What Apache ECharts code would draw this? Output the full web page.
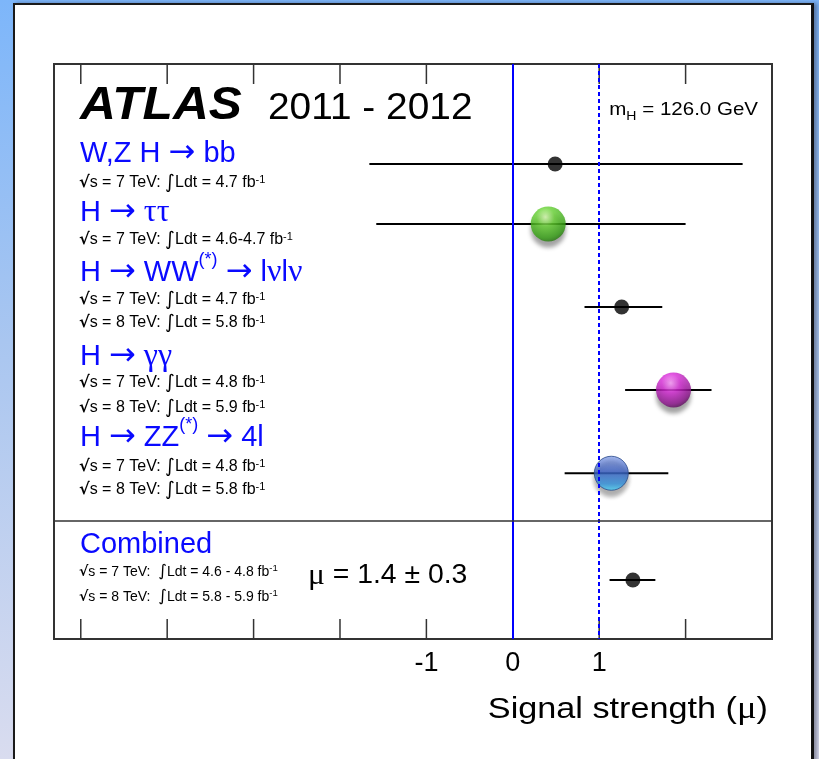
<!DOCTYPE html>
<html>
<head>
<meta charset="utf-8">
<script src="https://cdn.jsdelivr.net/npm/echarts@6/dist/echarts.min.js"></script>
<style>
  html, body { margin:0; padding:0; width:819px; height:759px; overflow:hidden; }
  body { background: linear-gradient(to bottom, #7db6fa 0%, #a9c6f0 45%, #d9dcef 100%); position:relative; }
  #panel { position:absolute; left:13px; top:3px; width:796px; height:800px; background:#fff;
           border-left:2px solid #1a1a1a; border-top:2px solid #1a1a1a; border-right:3px solid #111;
           box-shadow: 3px 0 4px rgba(40,40,60,0.45); }
  #chart { position:absolute; left:0; top:0; width:819px; height:759px; }
</style>
</head>
<body>
<div id="panel"></div>
<div id="chart"></div>
<script>
// ---- data ----
const channels = ['WZH_bb', 'H_tautau', 'H_WW', 'H_gamgam', 'H_ZZ', 'Combined'];
const muValue  = [0.49, 0.41, 1.26, 1.86, 1.14, 1.39];
const muLow    = [-1.66, -1.58, 0.83, 1.30, 0.60, 1.12];
const muHigh   = [2.66, 2.00, 1.73, 2.30, 1.80, 1.65];
const rowPos   = [4.0, 6.4, 9.72, 13.04, 16.37, 20.64];
const xTicks   = [-5, -4, -3, -2, -1, 0, 1, 2];
const xLabels  = [-1, 0, 1];
const refLines = [0, 1];
const separatorPos = 18.27;
const Y_MIN = 0, Y_MAX = 23;

const FONT = "'Liberation Sans', Arial, Helvetica, sans-serif";
const SERIF = "'Liberation Serif', 'DejaVu Serif', serif";
const BLUE = '#0a0aff';

function radial(c0, c1, c2, c3) {
  return { type:'radial', x:0.42, y:0.3, r:0.75,
    colorStops:[{offset:0,color:c0},{offset:0.35,color:c1},{offset:0.8,color:c2},{offset:1,color:c3}] };
}
const markerStyle = {
  WZH_bb:   { size:15, itemStyle:{ color:'#000' } },
  H_tautau: { size:35, itemStyle:{ color: radial('#d8ffb0','#66d232','#34a012','#1f6a0a'),
              shadowBlur:4, shadowOffsetY:6, shadowColor:'rgba(0,0,0,0.45)' } },
  H_WW:     { size:15, itemStyle:{ color:'#000' } },
  H_gamgam: { size:35, itemStyle:{ color: radial('#ff9cff','#d82ad8','#8e128e','#4a084a'),
              shadowBlur:4, shadowOffsetY:6, shadowColor:'rgba(0,0,0,0.45)' } },
  H_ZZ:     { size:34, itemStyle:{ color:{ type:'linear', x:0, y:0, x2:0, y2:1,
              colorStops:[{offset:0,color:'#8aa2e6'},{offset:0.45,color:'#3c62c8'},{offset:0.8,color:'#3191dc'},{offset:1,color:'#4ad6f6'}] },
              borderColor:'#2a4a8a', borderWidth:1,
              shadowBlur:4, shadowOffsetY:6, shadowColor:'rgba(0,0,0,0.4)' } },
  Combined: { size:15, itemStyle:{ color:'#000' } }
};

const chart = echarts.init(document.getElementById('chart'), null, { renderer:'canvas' });

function subRich(fs) {
  const k = fs / 16;
  return {
    sup:{ fontSize:11*k, lineHeight:11*k, verticalAlign:'top', fontFamily:FONT, fill:'#000' },
    rt:{ fontSize:16*k, lineHeight:18, fontFamily:"'DejaVu Sans'", fontWeight:'bold', fill:'#000' },
    it:{ fontSize:19*k, lineHeight:18, fontFamily:"'DejaVu Sans'", fill:'#000' }
  };
}
function subLine(txt, x, y, fs) {
  fs = fs || 16;
  return { type:'text', x:x, y:y, z:100,
    style:{ text:txt, fontSize:fs, fontFamily:FONT, fill:'#000', verticalAlign:'middle', align:'left',
            lineHeight:18, rich:subRich(fs) } };
}
const headRich = {
  sup:{ fontSize:18, lineHeight:18, verticalAlign:'top', fontFamily:FONT, fill:BLUE },
  arr:{ fontSize:32, lineHeight:44, fontFamily:"'DejaVu Sans'", fill:BLUE },
  gr:{ fontSize:32, lineHeight:44, fontFamily:SERIF, fill:BLUE }
};
function header(txt, x, y, fs) {
  return { type:'text', x:x, y:y, z:100,
    style:{ text:txt, fontSize:fs||29, fontFamily:FONT, fill:BLUE, verticalAlign:'middle', align:'left',
            lineHeight:44, rich:headRich } };
}
const SUB7 = '{rt|\u221A}s = 7 TeV: {it|\u222B}Ldt = ';
const SUB8 = '{rt|\u221A}s = 8 TeV: {it|\u222B}Ldt = ';

const graphics = [
  { type:'text', x:80, y:106, z:100, scaleX:1.08, style:{ text:'ATLAS', font:"italic bold 46px 'Liberation Sans', Arial", fill:'#000', verticalAlign:'middle' } },
  { type:'text', x:268, y:109, z:100, scaleX:1.05, style:{ text:'2011 - 2012', font:"37px 'Liberation Sans', Arial", fill:'#000', verticalAlign:'middle' } },
  { type:'text', x:758, y:110, z:100, scaleX:1.08, style:{ text:'m{sub|H} = 126.0 GeV', fontSize:19, fontFamily:FONT, fill:'#000',
      align:'right', verticalAlign:'middle', lineHeight:26,
      rich:{ sub:{ fontSize:13, lineHeight:13, verticalAlign:'bottom', fontFamily:FONT, fill:'#000' } } } },

  header('W,Z H {arr|\u2192} bb', 80, 154),
  subLine(SUB7 + '4.7 fb{sup|-1}', 79, 183),
  header('H {arr|\u2192} {gr|\u03C4\u03C4}', 80, 213),
  subLine(SUB7 + '4.6-4.7 fb{sup|-1}', 79, 240),
  header('H {arr|\u2192} WW{sup|(*)} {arr|\u2192} l{gr|\u03BD}l{gr|\u03BD}', 80, 273),
  subLine(SUB7 + '4.7 fb{sup|-1}', 79, 300),
  subLine(SUB8 + '5.8 fb{sup|-1}', 79, 323),
  header('H {arr|\u2192} {gr|\u03B3\u03B3}', 80, 357),
  subLine(SUB7 + '4.8 fb{sup|-1}', 79, 383),
  subLine(SUB8 + '5.9 fb{sup|-1}', 79, 408),
  header('H {arr|\u2192} ZZ{sup|(*)} {arr|\u2192} 4l', 80, 438),
  subLine(SUB7 + '4.8 fb{sup|-1}', 79, 467),
  subLine(SUB8 + '5.8 fb{sup|-1}', 79, 490),
  header('Combined', 80, 545, 29),
  subLine('{rt|\u221A}s = 7 TeV:  {it|\u222B}Ldt = 4.6 - 4.8 fb{sup|-1}', 79, 572, 14),
  subLine('{rt|\u221A}s = 8 TeV:  {it|\u222B}Ldt = 5.8 - 5.9 fb{sup|-1}', 79, 597, 14),
  { type:'text', x:308, y:576, z:100, scaleX:1.05, style:{ text:'{m|\u03BC} = 1.4 \u00B1 0.3', fontSize:27, fontFamily:FONT, fill:'#000', verticalAlign:'middle',
      rich:{ m:{ fontSize:30, fontFamily:SERIF, fill:'#000' } } } },
  { type:'text', x:768, y:710, z:100, scaleX:1.18, style:{ text:'Signal strength ({m|\u03BC})', fontSize:29, fontFamily:FONT, fill:'#000', verticalAlign:'middle', align:'right',
      rich:{ m:{ fontSize:31, fontFamily:SERIF, fill:'#000' } } } }
];

const option = {
  animation:false,
  backgroundColor:'transparent',
  grid:{ left:54, top:64, width:718, height:575, show:true, borderColor:'#333', borderWidth:2, backgroundColor:'transparent' },
  xAxis:{ type:'value', min:-5.31, max:3.0, position:'bottom',
      axisLine:{ show:false }, splitLine:{ show:false }, axisTick:{ show:false },
      axisLabel:{ show:true, customValues:xLabels, fontSize:27, color:'#000', fontFamily:FONT, margin:11 } },
  yAxis:{ type:'value', inverse:true, min:Y_MIN, max:Y_MAX, show:false },
  graphic: graphics,
  series:[
    { type:'scatter', data:[], z:1, silent:true,
      markLine:{ silent:true, symbol:['none','none'], label:{ show:false }, animation:false,
        data:[
          { xAxis:refLines[0], lineStyle:{ color:'#0000ff', width:2, type:'solid' } },
          { xAxis:refLines[1], lineStyle:{ color:'#0000ff', width:2, type:[4,3] } },
          { yAxis:separatorPos, lineStyle:{ color:'#333', width:1.5, type:'solid' } }
        ] } },
    // tick marks on top and bottom frame, placed by the x scale
    { type:'custom', z:2, silent:true,
      encode:{ x:0 },
      data: xTicks.map(v=>[v]),
      renderItem:function(params, api){
        const t = api.coord([api.value(0), Y_MIN]);
        const b = api.coord([api.value(0), Y_MAX]);
        const st = { stroke:'#333', lineWidth:1.5 };
        return { type:'group', children:[
          { type:'line', shape:{ x1:t[0], y1:t[1], x2:t[0], y2:t[1]+20 }, style:st },
          { type:'line', shape:{ x1:b[0], y1:b[1], x2:b[0], y2:b[1]-20 }, style:st }
        ] };
      } },
    { type:'custom', z:2, silent:true,
      encode:{ x:[0,1], y:2 },
      data: channels.map((c,i)=>[muLow[i], muHigh[i], rowPos[i]]),
      renderItem:function(params, api){
        const y = api.value(2);
        const p1 = api.coord([api.value(0), y]);
        const p2 = api.coord([api.value(1), y]);
        return { type:'line', shape:{ x1:p1[0], y1:p1[1], x2:p2[0], y2:p2[1] },
                 style:{ stroke:'#000', lineWidth:2 } };
      } },
    { type:'scatter', z:3, silent:true,
      data: channels.map((c,i)=>({ value:[muValue[i], rowPos[i]], symbolSize:markerStyle[c].size, itemStyle:markerStyle[c].itemStyle })) }
  ]
};
chart.setOption(option);
</script>
</body>
</html>
